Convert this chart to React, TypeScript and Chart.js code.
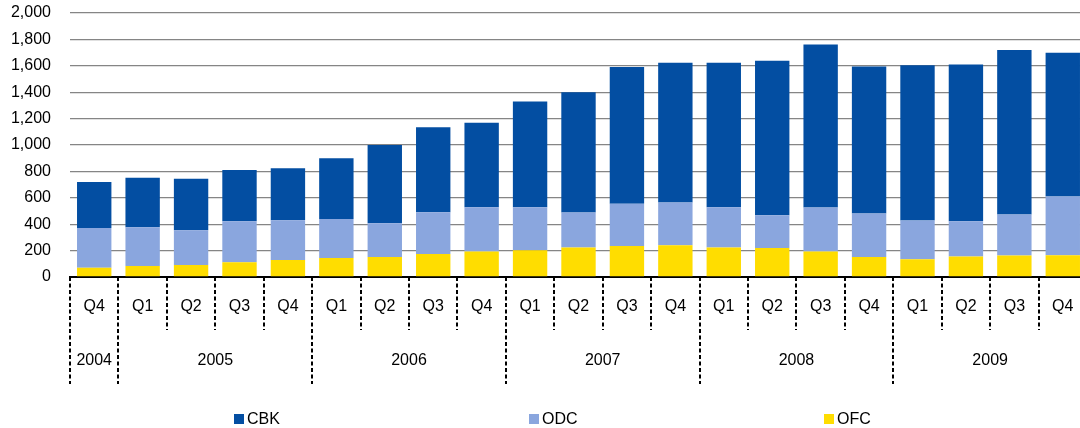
import React, { useEffect, useRef } from 'react';
import { Chart, registerables } from 'chart.js';

Chart.register(...registerables);

const quarters = ['Q4', 'Q1', 'Q2', 'Q3', 'Q4', 'Q1', 'Q2', 'Q3', 'Q4', 'Q1', 'Q2', 'Q3', 'Q4', 'Q1', 'Q2', 'Q3', 'Q4', 'Q1', 'Q2', 'Q3', 'Q4'];
const years = ['2004', '2005', '2005', '2005', '2005', '2006', '2006', '2006', '2006', '2007', '2007', '2007', '2007', '2008', '2008', '2008', '2008', '2009', '2009', '2009', '2009'];

const cbk = [347, 375, 389, 387, 393, 459, 592, 643, 640, 800, 911, 1036, 1058, 1094, 1170, 1235, 1114, 1177, 1187, 1245, 1089];
const odc = [301, 293, 264, 311, 301, 296, 256, 316, 336, 326, 266, 319, 324, 305, 248, 334, 329, 294, 268, 312, 445];
const ofc = [71, 84, 91, 112, 129, 144, 152, 175, 193, 203, 223, 235, 241, 224, 220, 193, 152, 134, 155, 162, 165];

const yMin = 0;
const yMax = 2000;
const yStep = 200;

const FONT = '"Liberation Sans", Arial, Helvetica, sans-serif';

const decorPlugin = {
  id: 'decor',
  afterDraw(chart: any) {
    const { ctx, chartArea } = chart;
    const x = chart.scales.x;
    const n = quarters.length;
    const w = (x.right - x.left) / n;
    const top = chartArea.bottom;
    ctx.save();
    ctx.strokeStyle = '#000';
    ctx.lineWidth = 2;
    ctx.setLineDash([4, 2.5]);
    for (let i = 0; i <= n; i++) {
      const px = Math.round(x.left + i * w);
      const isYear = i === 0 || i === n || years[i] !== years[i - 1];
      ctx.beginPath();
      ctx.moveTo(px, top);
      ctx.lineTo(px, isYear ? top + 107 : top + 53);
      ctx.stroke();
    }
    ctx.setLineDash([]);
    ctx.font = `16px ${FONT}`;
    ctx.fillStyle = '#000';
    ctx.textAlign = 'center';
    ctx.textBaseline = 'middle';
    let start = 0;
    for (let i = 1; i <= n; i++) {
      if (i === n || years[i] !== years[start]) {
        const cx = x.left + ((start + i) / 2) * w;
        ctx.fillText(years[start], cx, top + 84);
        start = i;
      }
    }
    // legend
    const ds = chart.data.datasets.slice().reverse();
    ctx.textAlign = 'left';
    ds.forEach((d: any, k: number) => {
      const lx = 234 + k * 295;
      ctx.fillStyle = d.backgroundColor;
      ctx.fillRect(lx, 414, 10, 10);
      ctx.fillStyle = '#000';
      ctx.fillText(d.label, lx + 13, 420);
    });
    ctx.restore();
  },
};

export default function App() {
  const ref = useRef<HTMLCanvasElement>(null);
  useEffect(() => {
    if (!ref.current) return;
    const chart = new Chart(ref.current, {
      type: 'bar',
      data: {
        labels: quarters,
        datasets: [
          { label: 'OFC', data: ofc, backgroundColor: '#FFDD00', borderWidth: 0 },
          { label: 'ODC', data: odc, backgroundColor: '#8AA6DE', borderWidth: 0 },
          { label: 'CBK', data: cbk, backgroundColor: '#034EA2', borderWidth: 0 },
        ],
      },
      options: {
        responsive: false,
        animation: false,
        devicePixelRatio: 1,
        layout: { padding: { top: 13, right: 13, bottom: 0, left: 0 } },
        datasets: { bar: { barPercentage: 0.71, categoryPercentage: 1 } },
        plugins: {
          legend: { display: false },
          tooltip: { enabled: false },
        },
        scales: {
          x: {
            stacked: true,
            grid: { display: false, drawTicks: false },
            border: { display: true, color: '#000', width: 2, dash: [4, 2.5] },
            ticks: {
              padding: 20,
              color: '#000',
              font: { family: FONT, size: 16 },
              maxRotation: 0,
              autoSkip: false,
            },
            afterFit: (s: any) => {
              s.height = 151;
              s.paddingLeft = 0;
              s.paddingRight = 0;
            },
          },
          y: {
            stacked: true,
            min: yMin,
            max: yMax,
            ticks: {
              stepSize: yStep,
              padding: 19,
              color: '#000',
              font: { family: FONT, size: 16 },
            },
            grid: {
              drawTicks: false,
              color: (c: any) => (c.tick && c.tick.value === 0 ? 'rgba(0,0,0,0)' : '#858585'),
              lineWidth: 1.3,
            },
            border: { display: false },
            afterFit: (s: any) => {
              s.width = 70;
              s.paddingTop = 0;
              s.paddingBottom = 0;
            },
          },
        },
      },
      plugins: [decorPlugin],
    });
    return () => chart.destroy();
  }, []);
  return (
    <div style={{ position: 'fixed', left: 0, top: 0, width: 1080, height: 428, overflow: 'hidden', background: '#fff' }}>
      <canvas ref={ref} width={1100} height={428} style={{ display: 'block', width: 1100, height: 428 }} />
    </div>
  );
}
